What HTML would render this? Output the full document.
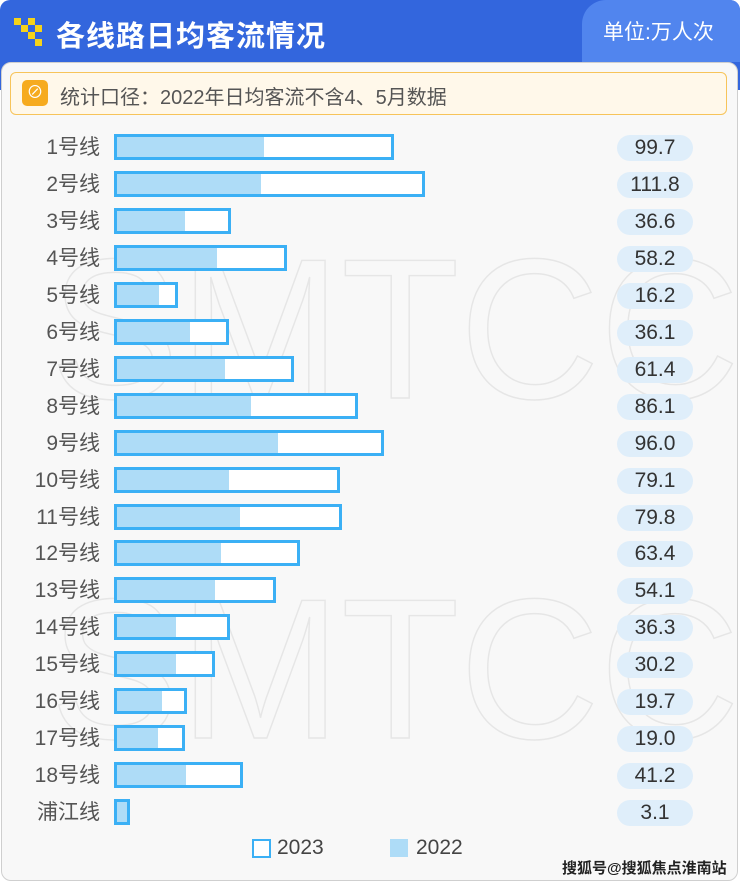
<!DOCTYPE html>
<html><head><meta charset="utf-8"><style>
body{margin:0;width:740px;height:883px;background:#fff;position:relative;overflow:hidden;font-family:"Liberation Sans","Noto Sans CJK SC",sans-serif}
.hdr{position:absolute;left:0;top:0;width:740px;height:90px;background:#3366dd;border-radius:10px 10px 0 0}
.tab{position:absolute;left:582px;top:0;width:158px;height:62px;background:#5185ee;border-radius:24px 10px 0 0}
.panel{position:absolute;left:1px;top:62px;width:735px;height:817px;background:#f8f8f8;border:1px solid #cfcfcf;border-radius:10px}
.t{position:absolute;color:#fff}
.note{position:absolute;left:10px;top:72px;width:715px;height:41px;background:#fff8ea;border:1.5px solid #f7c45a;border-radius:6px}
.lbl{position:absolute;width:100px;left:0;text-align:right;font-size:21px;color:#555;line-height:26px}
.bar{position:absolute;left:114px;height:20px;border:3px solid #3bb0f5;background:#fff}
.fill{position:absolute;left:0;top:0;height:20px;background:#aedcf7}
.val{position:absolute;left:617px;width:76px;height:26px;border-radius:13px;background:#dfeefa;text-align:center;font-size:21px;color:#333;line-height:26px}
.wm{position:absolute;font-size:200px;color:transparent;-webkit-text-stroke:1.5px #e6e6e6;letter-spacing:0px;font-family:"Liberation Sans",sans-serif;transform-origin:0 0;transform:scaleX(0.97)}
</style></head><body>
<div class="hdr"></div><div class="tab"></div>
<div class="panel"></div>
<div class="wm" style="left:50px;top:215px">SMTCC</div>
<div class="wm" style="left:50px;top:555px">SMTCC</div>
<svg style="position:absolute;left:14px;top:18px" width="30" height="28"><g fill="#f5d31a"><rect x="0" y="0" width="7" height="7"/><rect x="14" y="0" width="7" height="7"/><rect x="7" y="7" width="7" height="7"/><rect x="21" y="7" width="7" height="7"/><rect x="14" y="14" width="7" height="7"/><rect x="21" y="21" width="7" height="7"/></g></svg>
<div class="t" style="left:56px;top:13px;font-size:29px;font-weight:bold;letter-spacing:1px">各线路日均客流情况</div>
<div class="t" style="left:603px;top:16px;font-size:21px">单位:万人次</div>
<div class="note"></div>
<div style="position:absolute;left:22px;top:80px;width:26px;height:26px;background:#f6ab1f;border-radius:5px;color:#fff;font-size:17px;text-align:center;line-height:26px">⊘</div>
<div style="position:absolute;left:60px;top:81px;font-size:20px;color:#555">统计口径：2022年日均客流不含4、5月数据</div>
<div id="rows"></div>
<div style="position:absolute;left:252px;top:839px;width:15px;height:15px;border:2px solid #3bb0f5;background:#fff"></div>
<div style="position:absolute;left:277px;top:836px;font-size:21px;color:#444">2023</div>
<div style="position:absolute;left:390px;top:839px;width:18px;height:18px;background:#aedcf7"></div>
<div style="position:absolute;left:416px;top:836px;font-size:21px;color:#444">2022</div>
<div style="position:absolute;left:562px;top:857px;font-size:15px;color:#222;font-weight:bold;text-shadow:0 0 2px #fff">搜狐号@搜狐焦点淮南站</div>
<script>
var d=[["1号线",394,264,"99.7"],["2号线",425,261,"111.8"],["3号线",231,185,"36.6"],["4号线",287,217,"58.2"],["5号线",178,159,"16.2"],["6号线",229,190,"36.1"],["7号线",294,225,"61.4"],["8号线",358,251,"86.1"],["9号线",384,278,"96.0"],["10号线",340,229,"79.1"],["11号线",342,240,"79.8"],["12号线",300,221,"63.4"],["13号线",276,215,"54.1"],["14号线",230,176,"36.3"],["15号线",215,176,"30.2"],["16号线",187,162,"19.7"],["17号线",185,158,"19.0"],["18号线",243,186,"41.2"],["浦江线",130,130,"3.1"]];
var h="";d.forEach(function(r,i){var c=147+i*36.95;
h+='<div class="lbl" style="top:'+(c-12)+'px">'+r[0]+'</div>';
h+='<div class="bar" style="top:'+(c-13)+'px;width:'+(r[1]-114-6)+'px"><div class="fill" style="width:'+Math.min(r[2]-117,r[1]-120)+'px"></div></div>';
h+='<div class="val" style="top:'+(c-12)+'px">'+r[3]+'</div>';});
document.getElementById("rows").innerHTML=h;
</script>
</body></html>
